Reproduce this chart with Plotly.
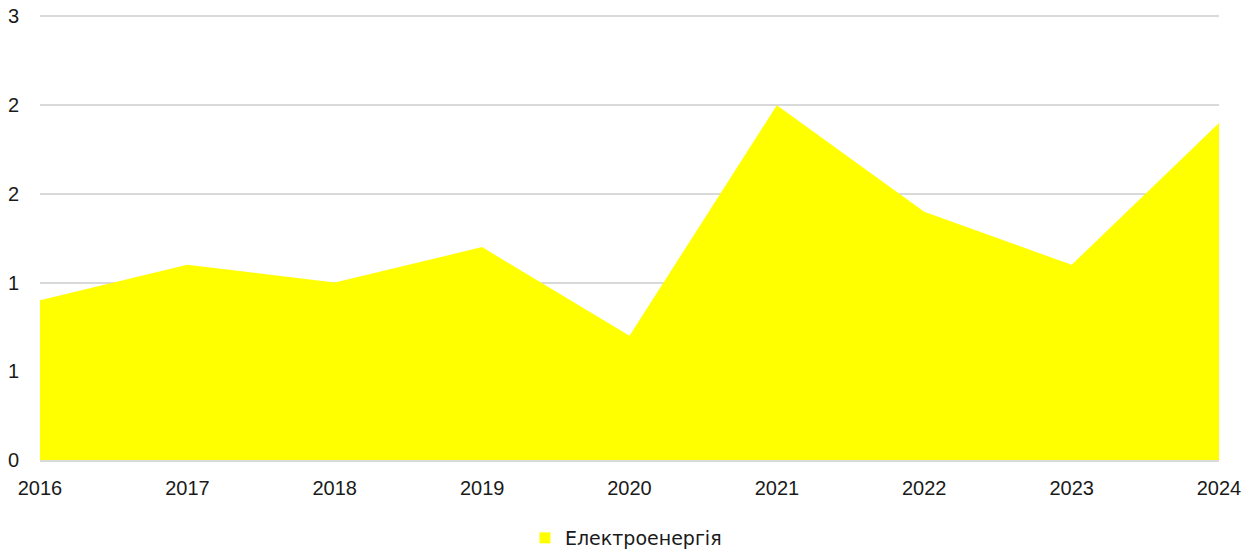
import plotly.graph_objects as go

# Electricity index by year
years = [2016, 2017, 2018, 2019, 2020, 2021, 2022, 2023, 2024]
electricity = [1.08, 1.32, 1.20, 1.44, 0.84, 2.40, 1.68, 1.32, 2.28]

y_tickvals = [0, 0.6, 1.2, 1.8, 2.4, 3.0]
y_ticktext = ["0", "1", "1", "2", "2", "3"]
series_name = "Електроенергія"

TICK_FONT = "'Liberation Sans', Arial, sans-serif"
LEGEND_FONT = "'DejaVu Sans', sans-serif"
GRID = "#d9d9d9"

fig = go.Figure()
fig.add_trace(go.Scatter(
    x=years,
    y=electricity,
    name=series_name,
    mode="lines",
    line=dict(width=0, color="#FFFF00"),
    fill="tozeroy",
    fillcolor="#FFFF00",
    showlegend=False,
    hoverinfo="x+y",
))
# legend entry drawn as a square swatch
fig.add_trace(go.Scatter(
    x=[None], y=[None],
    name=series_name,
    mode="markers",
    marker=dict(symbol="square", size=11, color="#FFFF00"),
    showlegend=True,
))

fig.update_layout(
    width=1244,
    height=550,
    margin=dict(l=40, r=25, t=15, b=90),
    paper_bgcolor="white",
    plot_bgcolor="white",
    font=dict(family=TICK_FONT, size=20, color="#1a1a1a"),
    xaxis=dict(
        range=[2016, 2024],
        tickvals=years,
        ticktext=[str(y) for y in years],
        showgrid=False,
        zeroline=False,
        showline=True,
        linecolor=GRID,
        linewidth=1.5,
        ticks="",
        ticklabelstandoff=9,
        automargin=False,
        tickfont=dict(family=TICK_FONT, size=20, color="#1a1a1a"),
    ),
    yaxis=dict(
        range=[0, 3.01],
        tickvals=y_tickvals,
        ticktext=y_ticktext,
        showgrid=True,
        gridcolor=GRID,
        gridwidth=1.5,
        zeroline=False,
        showline=False,
        ticks="",
        ticklabelstandoff=20,
        automargin=False,
        tickfont=dict(family=TICK_FONT, size=20, color="#1a1a1a"),
    ),
    legend=dict(
        orientation="h",
        xref="paper",
        yref="container",
        x=0.497,
        xanchor="center",
        y=1 - 538 / 550,
        yanchor="middle",
        font=dict(family=LEGEND_FONT, size=19, color="#1a1a1a"),
    ),
)

fig.write_html("out.html")
